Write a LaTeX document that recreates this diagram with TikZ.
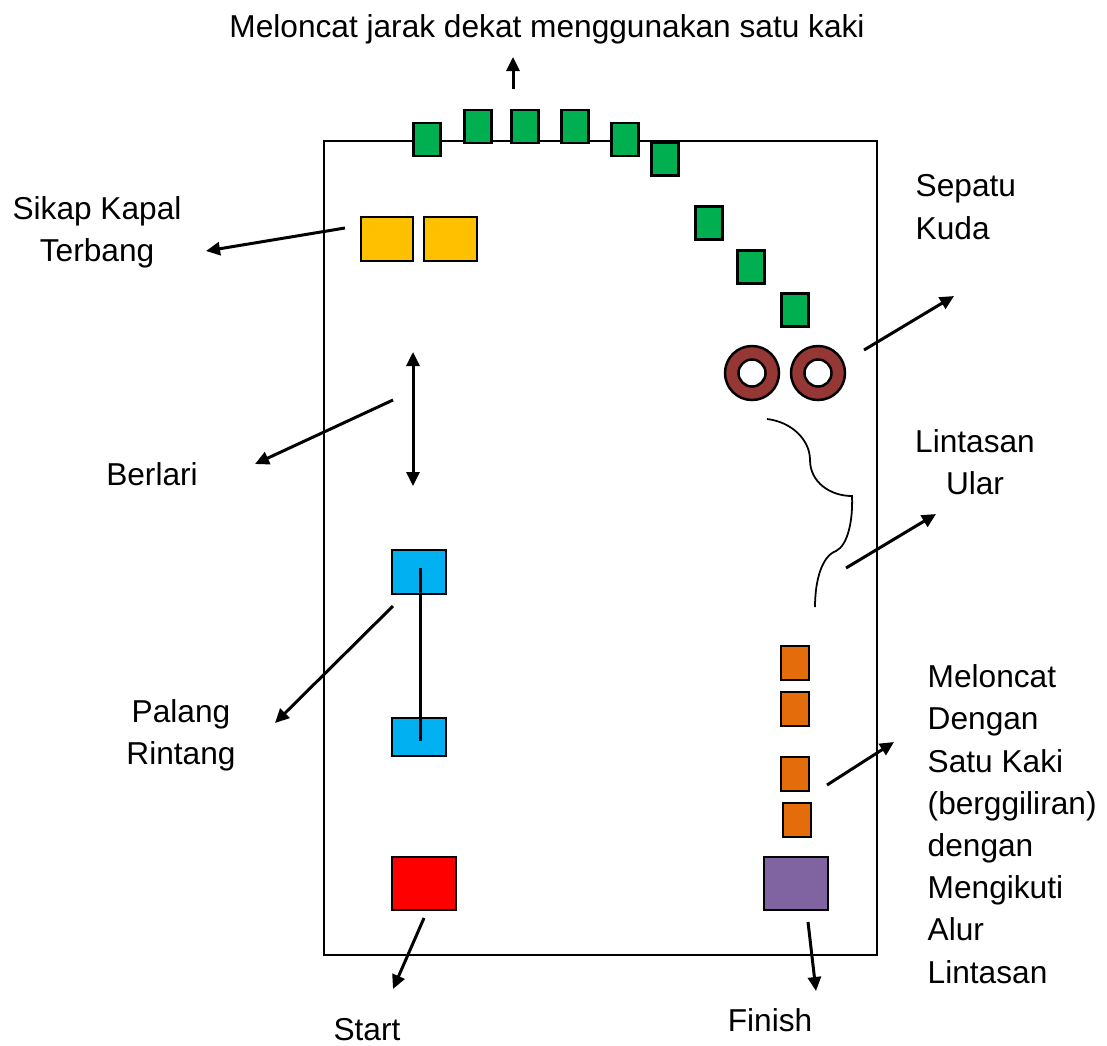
\documentclass[tikz,border=0pt]{standalone}
\usepackage{fontspec}
\setmainfont{Liberation Sans}
\usepackage{xcolor}
\usetikzlibrary{arrows.meta,positioning,calc}

\definecolor{padgreen}{RGB}{0,176,80}
\definecolor{padyellow}{RGB}{255,192,0}
\definecolor{padblue}{RGB}{0,176,240}
\definecolor{padorange}{RGB}{228,108,10}
\definecolor{padred}{RGB}{255,0,0}
\definecolor{padpurple}{RGB}{128,100,162}
\definecolor{shoebrown}{RGB}{149,55,53}

\tikzset{
  pad/.style={draw, line width=0.7pt, inner sep=0pt},
  greenpad/.style={pad, fill=padgreen, minimum width=0.27cm, minimum height=0.33cm},
  orangepad/.style={pad, fill=padorange, minimum width=0.28cm, minimum height=0.34cm},
  shoe/.style={circle, draw, line width=0.7pt, fill=shoebrown, minimum size=0.54cm,
    path picture={\draw[line width=0.7pt, fill=white] (path picture bounding box.center) circle (0.135cm);}},
  label/.style={font=\fontsize{9}{12}\selectfont, inner sep=0pt},
  arr/.style={-{Triangle[length=0.14cm,width=0.13cm]}, line width=0.85pt}
}

\begin{document}
\begin{tikzpicture}[x=0.01cm, y=-0.01cm]
  \useasboundingbox (0,0) rectangle (1107,1045);

  % Field
  \node[draw, line width=0.6pt, minimum width=5.53cm, minimum height=8.14cm] (field) at (600.5,548) {};

  % Green pads (satu kaki)
  \node[greenpad] (g1) at (427,139.5) {};
  \node[greenpad] (g2) at (478,126.5) {};
  \node[greenpad] (g3) at (525,126.5) {};
  \node[greenpad] (g4) at (575,126.5) {};
  \node[greenpad] (g5) at (625,139.5) {};
  \node[greenpad] (g6) at (665,159) {};
  \node[greenpad] (g7) at (709,223) {};
  \node[greenpad] (g8) at (751,267) {};
  \node[greenpad] (g9) at (795,310) {};

  % Kapal terbang
  \node[pad, fill=padyellow, minimum width=0.52cm, minimum height=0.44cm] (y1) at (387,239) {};
  \node[pad, fill=padyellow, minimum width=0.53cm, minimum height=0.44cm] (y2) at (450.5,239) {};

  % Sepatu kuda
  \node[shoe] (shoe1) at (752,373) {};
  \node[shoe] (shoe2) at (818,373) {};

  % Palang rintang
  \node[pad, fill=padblue, minimum width=0.54cm, minimum height=0.44cm] (pr1) at (419,572) {};
  \node[pad, fill=padblue, minimum width=0.54cm, minimum height=0.38cm] (pr2) at (419,737) {};
  \draw[line width=0.85pt] ($(pr1.center)+(1,-4)$) -- ($(pr2.center)+(1,4)$);

  % Orange pads
  \node[orangepad] (o1) at (795,663) {};
  \node[orangepad] (o2) at (795,709) {};
  \node[orangepad] (o3) at (795,774) {};
  \node[orangepad] (o4) at (797,820) {};

  % Start / finish
  \node[pad, fill=padred, minimum width=0.64cm, minimum height=0.53cm] (start) at (424,883.5) {};
  \node[pad, fill=padpurple, minimum width=0.64cm, minimum height=0.53cm] (finish) at (796,883.5) {};

  % Lintasan ular
  \draw[line width=0.5pt] (767,419) .. controls (792,422) and (810,440) .. (810,460)
    .. controls (810,482) and (830,496) .. (852,496)
    .. controls (853,520) and (848,545) .. (836,551)
    .. controls (822,556) and (815,580) .. (815,607);

  % Berlari
  \coordinate (runA) at (413,352);
  \coordinate (runB) at (413,486);
  \draw[{Triangle[length=0.14cm,width=0.13cm]}-{Triangle[length=0.14cm,width=0.13cm]}, line width=0.85pt] (runA) -- (runB);

  % Labels
  \node[label, anchor=north] (tTop) at (547,14) {Meloncat jarak dekat menggunakan satu kaki};
  \node[label, anchor=north, align=center] (tSikap) at (97,196) {Sikap Kapal\\Terbang};
  \node[label, anchor=north west, align=left] (tSepatu) at (915,174) {Sepatu\\Kuda};
  \node[label, anchor=north] (tLari) at (152,462) {Berlari};
  \node[label, anchor=north, align=center] (tUlar) at (975,429) {Lintasan\\Ular};
  \node[label, anchor=north, align=center] (tPalang) at (181,699) {Palang\\Rintang};
  \node[label, anchor=north west, align=left] (tLoncat) at (927,664)
    {Meloncat\\Dengan\\Satu Kaki\\(berggiliran)\\dengan\\Mengikuti\\Alur\\Lintasan};
  \node[label, anchor=north] (tStart) at (367,1018) {Start};
  \node[label, anchor=north] (tFinish) at (770,1008) {Finish};

  % Arrows
  \coordinate (aTop1) at (513,89);   \coordinate (aTop2) at (513,57);
  \coordinate (aSik1) at (345,228);  \coordinate (aSik2) at (206,251);
  \coordinate (aSep1) at (864,350);  \coordinate (aSep2) at (954,296);
  \coordinate (aLar1) at (393,400);  \coordinate (aLar2) at (255,464);
  \coordinate (aUla1) at (846,568);  \coordinate (aUla2) at (936,514);
  \coordinate (aPal1) at (393,606);  \coordinate (aPal2) at (275,723);
  \coordinate (aLon1) at (827,785);  \coordinate (aLon2) at (894,742);
  \coordinate (aSta1) at (424,918);  \coordinate (aSta2) at (393,989);
  \coordinate (aFin1) at (808,922);  \coordinate (aFin2) at (816,991);
  \draw[arr] (aTop1) -- (aTop2);
  \draw[arr] (aSik1) -- (aSik2);
  \draw[arr] (aSep1) -- (aSep2);
  \draw[arr] (aLar1) -- (aLar2);
  \draw[arr] (aUla1) -- (aUla2);
  \draw[arr] (aPal1) -- (aPal2);
  \draw[arr] (aLon1) -- (aLon2);
  \draw[arr] (aSta1) -- (aSta2);
  \draw[arr] (aFin1) -- (aFin2);
\end{tikzpicture}
\end{document}
